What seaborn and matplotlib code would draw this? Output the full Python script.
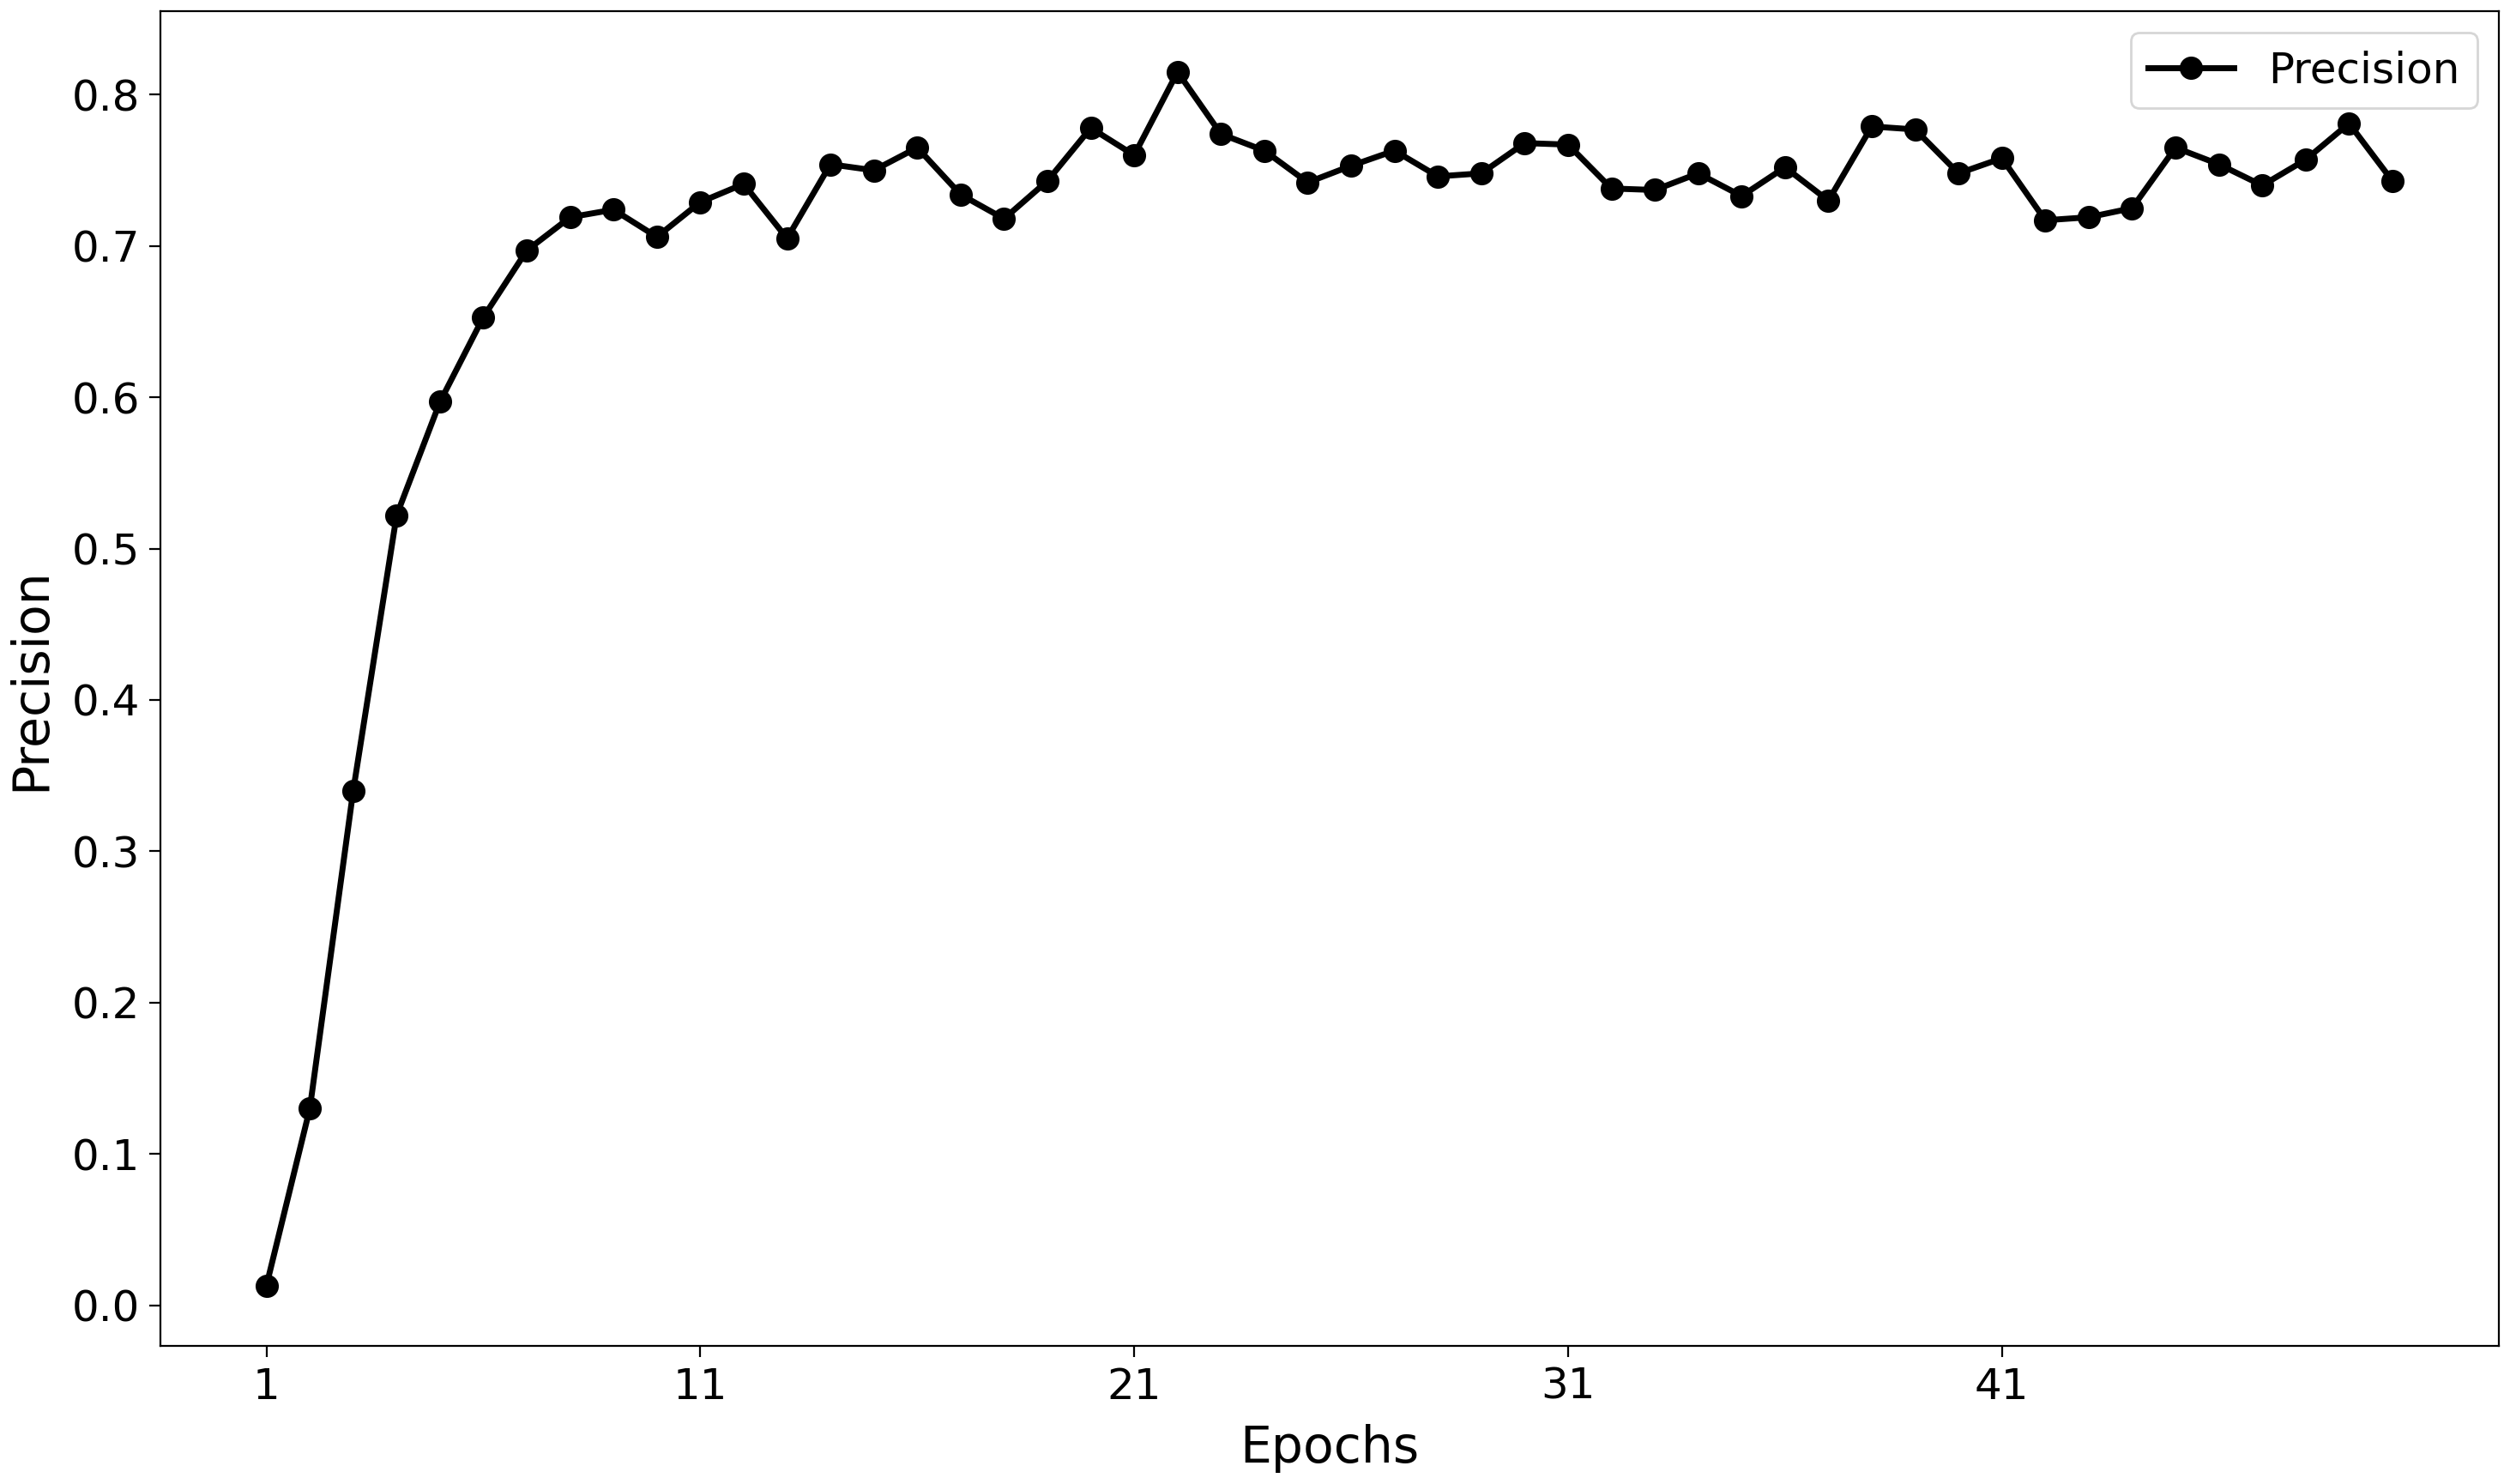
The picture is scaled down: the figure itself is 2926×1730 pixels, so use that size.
import numpy as np
import pandas as pd
import matplotlib
matplotlib.use("Agg")
import matplotlib.pyplot as plt
import seaborn as sns

epochs = list(range(1, 51))
precision = [0.013, 0.130, 0.340, 0.522, 0.597, 0.653, 0.697, 0.719, 0.724, 0.706,
             0.729, 0.741, 0.705, 0.754, 0.750, 0.765, 0.734, 0.718, 0.743, 0.778,
             0.760, 0.815, 0.774, 0.763, 0.742, 0.753, 0.763, 0.746, 0.748, 0.768,
             0.767, 0.738, 0.737, 0.748, 0.733, 0.752, 0.730, 0.779, 0.777, 0.748,
             0.758, 0.717, 0.719, 0.725, 0.765, 0.754, 0.740, 0.757, 0.781, 0.743]
xticks = [1, 11, 21, 31, 41]

df = pd.DataFrame({"Epochs": epochs, "Precision": precision})

fig = plt.figure(figsize=(14.63, 8.65), dpi=200)
ax = fig.add_axes([0.0638, 0.0928, 0.9317, 0.8996])
sns.lineplot(data=df, x="Epochs", y="Precision", marker="o", color="black",
             linewidth=2.5, markersize=9, markeredgecolor="black",
             label="Precision", ax=ax)
ax.set_xticks(xticks)
ax.set_xlabel("Epochs", fontsize=21, labelpad=7)
ax.set_ylabel("Precision", fontsize=21, labelpad=7)
ax.tick_params(labelsize=18, length=4.8)
ax.legend(loc="upper right", fontsize=18)
fig.savefig("out.png", dpi=200)
